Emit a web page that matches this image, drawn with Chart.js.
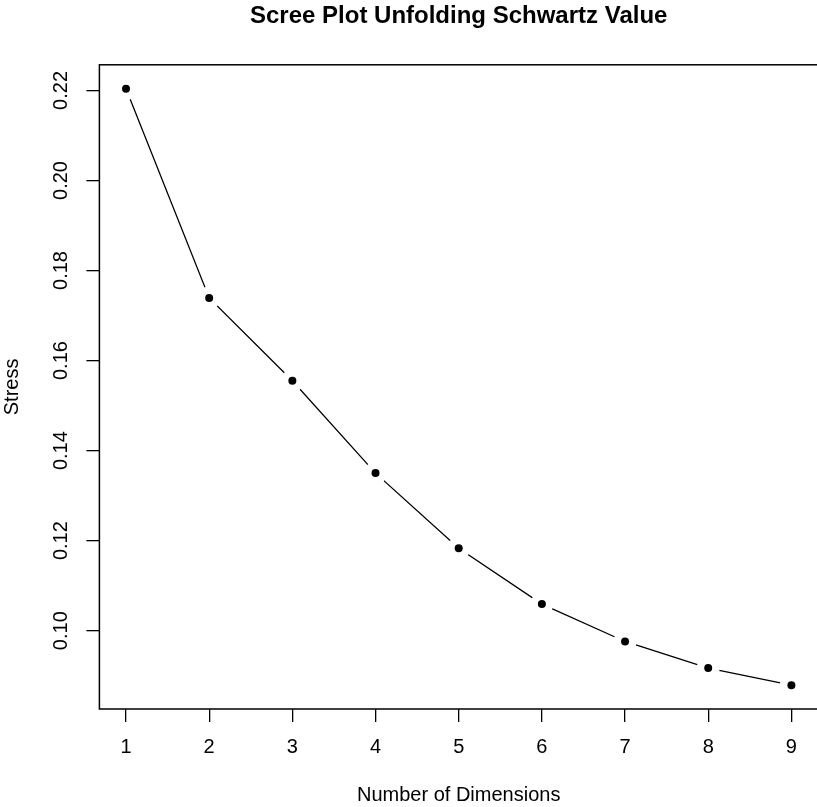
<!DOCTYPE html>
<html>
<head>
<meta charset="utf-8">
<script src="https://cdn.jsdelivr.net/npm/chart.js@4"></script>
<style>
    html, body { margin: 0; padding: 0; background: #fff; overflow: hidden; }
</style>
</head>
<body>
<canvas id="scree" width="820" height="807"></canvas>
<script>
const dimensions = [1, 2, 3, 4, 5, 6, 7, 8, 9];
const stress = [0.2204, 0.1739, 0.1555, 0.1350, 0.1183, 0.1059, 0.0976, 0.0917, 0.0879];
const yTicks = [0.10, 0.12, 0.14, 0.16, 0.18, 0.20, 0.22];
const xTicks = [1, 2, 3, 4, 5, 6, 7, 8, 9];

const pontos = dimensions.map((d, i) => ({ x: d, y: stress[i] }));

// limites como no R: 4% de folga em cada lado
const yLo = Math.min(...stress), yHi = Math.max(...stress);
const yPad = (yHi - yLo) * 0.04;
const xPad = (Math.max(...dimensions) - Math.min(...dimensions)) * 0.04;

const fonte = 'Liberation Sans, Arial, Helvetica, sans-serif';

// moldura em volta da área do gráfico
const moldura = {
    id: 'moldura',
    afterDraw(chart) {
        const { ctx, chartArea } = chart;
        ctx.save();
        ctx.strokeStyle = '#000';
        ctx.lineWidth = 1.5;
        ctx.strokeRect(chartArea.left, chartArea.top, chartArea.right - chartArea.left, chartArea.bottom - chartArea.top);
        ctx.restore();
    }
};

new Chart(document.getElementById('scree').getContext('2d'), {
    type: 'scatter',
    data: {
        datasets: [
            {   // pontos pretos
                data: pontos,
                showLine: false,
                pointRadius: 4,
                pointHoverRadius: 4,
                pointBackgroundColor: '#000',
                pointBorderWidth: 0,
                order: 1
            },
            {   // halo branco para abrir o espaço da linha (type = "b")
                data: pontos,
                showLine: false,
                pointRadius: 11.5,
                pointHoverRadius: 11.5,
                pointBackgroundColor: '#fff',
                pointBorderWidth: 0,
                order: 2
            },
            {   // linha
                data: pontos,
                showLine: true,
                borderColor: '#000',
                borderWidth: 1.3,
                pointRadius: 0,
                order: 3
            }
        ]
    },
    options: {
        responsive: false,
        animation: false,
        events: [],
        layout: { autoPadding: false, padding: { left: 0, right: 2, top: 0, bottom: 0 } },
        plugins: {
            legend: { display: false },
            tooltip: { enabled: false },
            title: {
                display: true,
                fullSize: false,
                text: 'Scree Plot Unfolding Schwartz Value',
                color: '#000',
                font: { family: fonte, size: 24, weight: 'bold' },
                padding: { top: 2, bottom: 34 }
            }
        },
        scales: {
            x: {
                type: 'linear',
                min: Math.min(...dimensions) - xPad,
                max: Math.max(...dimensions) + xPad,
                afterBuildTicks: s => { s.ticks = xTicks.map(v => ({ value: v })); },
                afterFit: s => { s.height = 98; s.paddingLeft = 0; s.paddingRight = 0; },
                grid: { display: true, drawOnChartArea: false, tickLength: 13, color: '#000', lineWidth: 1.3 },
                border: { display: false },
                ticks: { color: '#000', padding: 13, font: { family: fonte, size: 20 } },
                title: {
                    display: true,
                    text: 'Number of Dimensions',
                    color: '#000',
                    font: { family: fonte, size: 20 },
                    padding: { top: 0, bottom: 0 }
                }
            },
            y: {
                type: 'linear',
                min: yLo - yPad,
                max: yHi + yPad,
                afterBuildTicks: s => { s.ticks = yTicks.map(v => ({ value: v })); },
                afterFit: s => { s.width = 99.4; s.paddingTop = 0; s.paddingBottom = 0; },
                grid: { display: true, drawOnChartArea: false, tickLength: 13, color: '#000', lineWidth: 1.3 },
                border: { display: false },
                ticks: {
                    color: '#000',
                    padding: 5,
                    minRotation: 90,
                    maxRotation: 90,
                    crossAlign: 'center',
                    font: { family: fonte, size: 20 },
                    callback: v => v.toFixed(2)
                },
                title: {
                    display: true,
                    text: 'Stress',
                    color: '#000',
                    font: { family: fonte, size: 20 },
                    padding: { top: 0, bottom: 0 }
                }
            }
        }
    },
    plugins: [moldura]
});
</script>
</body>
</html>
